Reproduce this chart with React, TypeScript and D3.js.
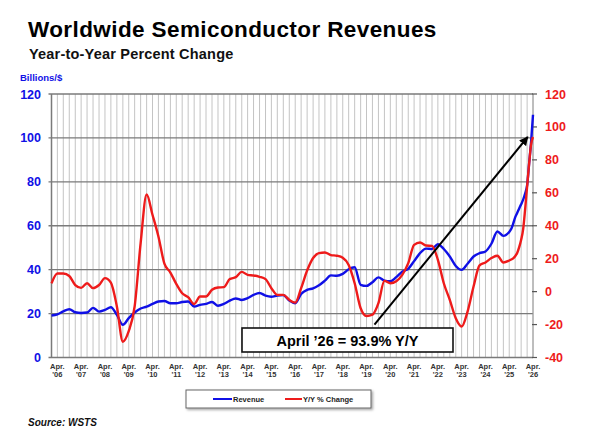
import React from "react";
import * as d3 from "d3";

const W = 590;
const H = 442;
const plot = { left: 51.5, right: 533, top: 94, bottom: 357.5 };

// quarterly readings through Jan '25, then monthly to Apr '26
const quarterStarts = d3.timeMonth.every(3)!.range(new Date(2006, 0, 1), new Date(2025, 1, 1));
const lastYearMonths = d3.timeMonth.range(new Date(2025, 3, 1), new Date(2026, 4, 1));
const months = [...quarterStarts, ...lastYearMonths];

// 3-month average sales, billions of dollars
const revenue = [
  19.1, 19.6, 21.0, 22.0, 20.6, 20.3, 20.5, 22.6, 20.9, 21.7, 22.9, 19.4,
  14.9, 17.9, 20.5, 22.3, 23.2, 24.4, 25.5, 25.7, 24.7, 24.7, 25.3, 25.5,
  23.2, 24.0, 24.4, 25.3, 23.6, 24.4, 25.9, 26.9, 26.2, 27.0, 28.5, 29.4,
  28.2, 27.7, 28.2, 28.4, 25.9, 24.7, 28.9, 30.8, 31.5, 32.9, 35.0, 37.4,
  37.2, 38.1, 40.2, 41.1, 33.1, 32.6, 34.3, 36.5, 35.0, 34.7, 36.6, 39.1,
  40.4, 43.9, 47.5, 49.6, 49.4, 51.6, 49.4, 46.0, 41.7, 39.9, 42.7, 46.0,
  47.5, 48.3, 51.8, 57.4, 55.4,
  57.2, 58.5, 61.0, 63.8, 65.8, 67.9, 69.8, 71.9, 74.6, 78.5, 88.5, 97.5, 110.5,
];

// year-over-year change, percent
const yoyChange = [
  5.0, 11.0, 11.0, 9.5, 4.0, 2.3, 5.1, 2.1, 4.0, 8.2, 5.5, -9.0,
  -30.4, -24.0, -9.0, 29.5, 59.0, 46.7, 33.5, 17.0, 11.6, 4.7, -1.0, -3.4,
  -7.5, -3.0, -3.0, 1.1, 2.5, 2.7, 7.6, 8.8, 12.0, 10.2, 9.8, 9.0,
  7.6, 2.1, -2.0, -2.0, -5.0, -6.7, 2.1, 12.8, 20.4, 23.4, 23.8, 22.2,
  21.8, 20.6, 16.2, 5.1, -10.1, -14.8, -14.0, -7.0, 6.5, 5.1, 6.3, 10.2,
  17.3, 28.4, 29.8, 28.0, 27.8, 19.3, 5.1, -5.0, -16.2, -21.2, -12.1, 3.1,
  15.9, 17.7, 20.4, 21.8, 17.7,
  18.9, 19.5, 20.2, 21.5, 23.5, 27.0, 31.5, 38.0, 50.0, 64.0, 78.0, 89.0, 93.9,
];

const leftTicks = [0, 20, 40, 60, 80, 100, 120];
const rightTicks = [-40, -20, 0, 20, 40, 60, 80, 100, 120];
const labelYears = [
  2006, 2007, 2008, 2009, 2010, 2011, 2012, 2013, 2014, 2015, 2016,
  2017, 2018, 2019, 2020, 2021, 2022, 2023, 2024, 2025, 2026,
];

const BLUE = "#1010e6";
const RED = "#ee1b1b";
const FONT = "'Liberation Sans', Arial, Helvetica, sans-serif";

export default function App() {
  const x = d3
    .scaleTime()
    .domain([new Date(2006, 0, 1), new Date(2026, 3, 1)])
    .range([plot.left, plot.right]);
  const yLeft = d3.scaleLinear().domain([0, 120]).range([plot.bottom, plot.top]);
  const yRight = d3.scaleLinear().domain([-40, 120]).range([plot.bottom, plot.top]);

  const revLine = d3
    .line<number>()
    .x((_, i) => x(months[i]))
    .y((d) => yLeft(d))
    .curve(d3.curveMonotoneX);
  const yoyLine = d3
    .line<number>()
    .x((_, i) => x(months[i]))
    .y((d) => yRight(d))
    .curve(d3.curveMonotoneX);

  const quarterLines = d3.timeMonth
    .every(3)!
    .range(new Date(2006, 3, 1), new Date(2026, 3, 2));

  const lastYoy = yoyChange[yoyChange.length - 1];
  const arrowFrom = { x: x(new Date(2019, 7, 1)), y: yRight(-20) };
  const arrowTo = { x: x(new Date(2026, 0, 10)), y: yRight(lastYoy) };

  return (
    <svg
      width={W}
      height={H}
      style={{ position: "absolute", left: 0, top: 0, background: "#fff" }}
      fontFamily={FONT}
    >
      <defs>
        <marker id="head" viewBox="0 0 10 10" refX="9" refY="5" markerWidth="4.5" markerHeight="4.5" orient="auto">
          <path d="M0,0 L10,5 L0,10 z" fill="#000" />
        </marker>
        <filter id="shadow" x="-5%" y="-20%" width="110%" height="150%">
          <feDropShadow dx="1.5" dy="1.5" stdDeviation="0.8" floodColor="#000" floodOpacity="0.35" />
        </filter>
      </defs>

      <text x={28} y={37} fontSize={22.5} letterSpacing={0.4} fontWeight="bold" fill="#000">
        Worldwide Semiconductor Revenues
      </text>
      <text x={29} y={59} fontSize={14.5} letterSpacing={0.2} fontWeight="bold" fill="#111">
        Year-to-Year Percent Change
      </text>
      <text x={20} y={81} fontSize={9.5} fontWeight="bold" fill={BLUE}>
        Billions/$
      </text>

      {/* quarterly vertical grid */}
      {quarterLines.map((d, i) => (
        <line key={`v${i}`} x1={x(d)} x2={x(d)} y1={plot.top} y2={plot.bottom} stroke="#c4c4c4" strokeWidth={1} />
      ))}

      {/* horizontal grid on the left scale */}
      {leftTicks.map((t) => (
        <line
          key={`h${t}`}
          x1={plot.left - 3}
          x2={plot.right}
          y1={yLeft(t)}
          y2={yLeft(t)}
          stroke="#7a7a7a"
          strokeWidth={1.3}
        />
      ))}
      <line x1={plot.left} x2={plot.left} y1={plot.top} y2={plot.bottom} stroke="#7a7a7a" strokeWidth={1.5} />
      <line x1={plot.right} x2={plot.right} y1={plot.top} y2={plot.bottom} stroke="#9a9a9a" strokeWidth={1} />

      {leftTicks.map((t) => (
        <text key={`lt${t}`} x={41} y={yLeft(t)} dy="0.36em" textAnchor="end" fontSize={12.5} fontWeight="bold" fill={BLUE}>
          {t}
        </text>
      ))}

      {rightTicks.map((t) => (
        <g key={`rt${t}`}>
          <line x1={plot.right - 1} x2={plot.right + 4} y1={yRight(t)} y2={yRight(t)} stroke="#555" strokeWidth={1.2} />
          <text x={545} y={yRight(t)} dy="0.36em" fontSize={12.5} fontWeight="bold" fill={RED}>
            {t}
          </text>
        </g>
      ))}

      {labelYears.map((yr) => {
        const cx = x(new Date(yr, 3, 1));
        return (
          <g key={`xl${yr}`} fontSize={7.5} fontWeight="bold" fill="#333" textAnchor="middle">
            <text x={cx} y={369}>Apr.</text>
            <text x={cx} y={377}>{`'${String(yr).slice(2)}`}</text>
          </g>
        );
      })}

      <path d={revLine(revenue) ?? ""} fill="none" stroke={BLUE} strokeWidth={2.4} strokeLinejoin="round" />
      <path d={yoyLine(yoyChange) ?? ""} fill="none" stroke={RED} strokeWidth={2.4} strokeLinejoin="round" />

      <line
        x1={arrowFrom.x}
        y1={arrowFrom.y}
        x2={arrowTo.x}
        y2={arrowTo.y}
        stroke="#000"
        strokeWidth={2}
        markerEnd="url(#head)"
      />

      <rect x={242} y={328} width={211} height={24} fill="#fff" stroke="#111" strokeWidth={1.6} />
      <text x={347.5} y={345.5} textAnchor="middle" fontSize={14.5} fontWeight="bold" fill="#000">
        {`April ’26 = ${lastYoy.toFixed(1)}% Y/Y`}
      </text>

      {/* legend */}
      <rect x={186} y={390} width={185} height={18} fill="#fff" stroke="#666" strokeWidth={1} filter="url(#shadow)" />
      <line x1={213} x2={232} y1={399} y2={399} stroke={BLUE} strokeWidth={2} />
      <text x={233} y={401.5} fontSize={7.5} fontWeight="bold" fill="#222">
        Revenue
      </text>
      <line x1={285} x2={302} y1={399} y2={399} stroke={RED} strokeWidth={2} />
      <text x={303} y={401.5} fontSize={7.5} fontWeight="bold" fill="#222">
        Y/Y % Change
      </text>

      <text x={28} y={426} fontSize={10} fontWeight="bold" fontStyle="italic" fill="#111">
        Source: WSTS
      </text>
    </svg>
  );
}
